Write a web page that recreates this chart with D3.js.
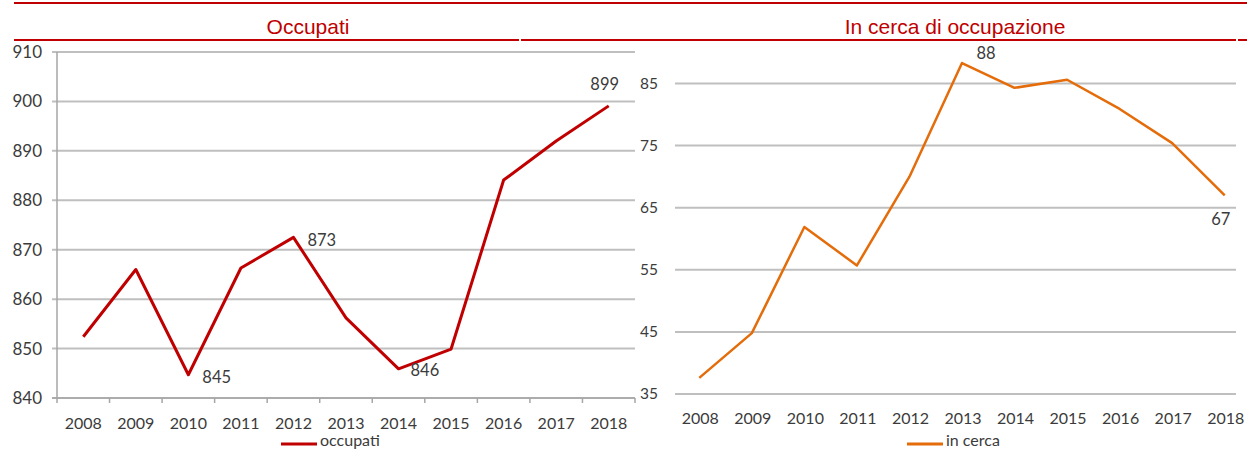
<!DOCTYPE html>
<html>
<head>
<meta charset="utf-8">
<script src="https://cdn.jsdelivr.net/npm/d3@7"></script>
<style>
  html, body { margin: 0; padding: 0; background: #fff; }
  svg { display: block; }
  .num { font-family: Lato, "Open Sans", sans-serif; fill: #3b3b3b; }
</style>
</head>
<body>
<svg id="chart" width="1247" height="450"></svg>
<script>
const years = ["2008","2009","2010","2011","2012","2013","2014","2015","2016","2017","2018"];
const occupati = [852.4, 866.0, 844.7, 866.3, 872.5, 856.2, 845.9, 849.9, 884.1, 892.0, 899.1];
const inCerca = [37.6, 44.8, 61.9, 55.7, 70.0, 88.3, 84.3, 85.6, 80.9, 75.4, 67.0];
const occTicks = [840, 850, 860, 870, 880, 890, 900, 910];
const cercaTicks = [35, 45, 55, 65, 75, 85];
const occLabels = [{i: 2, text: "845"}, {i: 4, text: "873"}, {i: 6, text: "846"}, {i: 10, text: "899"}];
const cercaLabels = [{i: 5, text: "88"}, {i: 10, text: "67"}];
const titles = ["Occupati", "In cerca di occupazione"];
const legendNames = ["occupati", "in cerca"];

const RED = "#C00000", ORANGE = "#E46C0A", GRID = "#BFBFBF", AXIS = "#A6A6A6";
const svg = d3.select("#chart");

// header rules
svg.append("line").attr("x1", 14).attr("x2", 1247).attr("y1", 3).attr("y2", 3)
  .attr("stroke", RED).attr("stroke-width", 2);
[[14, 519], [521, 1236], [1238, 1247]].forEach(([a, b]) =>
  svg.append("line").attr("x1", a).attr("x2", b).attr("y1", 40).attr("y2", 40)
    .attr("stroke", RED).attr("stroke-width", 2));

// titles
svg.append("text").attr("x", 308).attr("y", 34).attr("text-anchor", "middle")
  .attr("font-family", "'Liberation Sans', Arial, sans-serif").attr("font-size", 21)
  .attr("fill", RED).text(titles[0]);
svg.append("text").attr("x", 955).attr("y", 34).attr("text-anchor", "middle")
  .attr("font-family", "'Liberation Sans', Arial, sans-serif").attr("font-size", 21)
  .attr("fill", RED).text(titles[1]);

// ===== Left chart =====
const xL = d3.scaleBand().domain(years).range([57, 635]);
const yL = d3.scaleLinear().domain([840, 910]).range([398, 52]);
const gL = svg.append("g");

gL.selectAll(".gl").data(occTicks).join("line")
  .attr("x1", 52).attr("x2", 635)
  .attr("y1", d => yL(d)).attr("y2", d => yL(d))
  .attr("stroke", GRID).attr("stroke-width", 2);
gL.append("line").attr("x1", 57).attr("x2", 57).attr("y1", yL(910)).attr("y2", yL(840))
  .attr("stroke", AXIS).attr("stroke-width", 1.5);
gL.append("line").attr("x1", 52).attr("x2", 635).attr("y1", yL(840)).attr("y2", yL(840))
  .attr("stroke", AXIS).attr("stroke-width", 1.5);
gL.selectAll(".bt").data(years.concat(["end"])).join("line")
  .attr("x1", (d, i) => i < years.length ? xL(d) : xL.range()[1])
  .attr("x2", (d, i) => i < years.length ? xL(d) : xL.range()[1])
  .attr("y1", yL(840)).attr("y2", yL(840) + 5)
  .attr("stroke", AXIS).attr("stroke-width", 1.5);
gL.selectAll(".yl").data(occTicks).join("text").attr("class", "num")
  .attr("x", 42).attr("y", d => yL(d)).attr("dy", "0.35em")
  .attr("text-anchor", "end").attr("font-size", 17).text(d => d);
gL.selectAll(".xl").data(years).join("text").attr("class", "num")
  .attr("x", d => xL(d) + xL.bandwidth() / 2).attr("y", 423).attr("dy", "0.35em")
  .attr("text-anchor", "middle").attr("font-size", 16).text(d => d);
const lineL = d3.line().x((d, i) => xL(years[i]) + xL.bandwidth() / 2).y(d => yL(d));
gL.append("path").datum(occupati).attr("d", lineL)
  .attr("fill", "none").attr("stroke", RED).attr("stroke-width", 3)
  .attr("stroke-linejoin", "round");
const occOff = {2: [14, 2], 4: [14, 3], 6: [12, 1], 10: [-4, -22]};
gL.selectAll(".dl").data(occLabels).join("text").attr("class", "num")
  .attr("x", d => xL(years[d.i]) + xL.bandwidth() / 2 + occOff[d.i][0])
  .attr("y", d => yL(occupati[d.i]) + occOff[d.i][1]).attr("dy", "0.35em")
  .attr("text-anchor", d => d.i === 10 ? "middle" : "start")
  .attr("font-size", 16.5).text(d => d.text);
gL.append("line").attr("x1", 281).attr("x2", 317).attr("y1", 444).attr("y2", 444)
  .attr("stroke", RED).attr("stroke-width", 3);
gL.append("text").attr("class", "num").attr("x", 320).attr("y", 446)
  .attr("font-size", 16).text(legendNames[0]);

// ===== Right chart =====
const xR = d3.scaleBand().domain(years).range([673, 1251]);
const yR = d3.scaleLinear().domain([35, 85]).range([394, 83.5]);
const gR = svg.append("g");

gR.selectAll(".gr").data(cercaTicks).join("line")
  .attr("x1", 675).attr("x2", 1236)
  .attr("y1", d => yR(d)).attr("y2", d => yR(d))
  .attr("stroke", GRID).attr("stroke-width", 2);
gR.selectAll(".yl").data(cercaTicks).join("text").attr("class", "num")
  .attr("x", 658).attr("y", d => yR(d)).attr("dy", "0.35em")
  .attr("text-anchor", "end").attr("font-size", 15.5).text(d => d);
gR.selectAll(".xl").data(years).join("text").attr("class", "num")
  .attr("x", d => xR(d) + xR.bandwidth() / 2 + 1).attr("y", 418).attr("dy", "0.35em")
  .attr("text-anchor", "middle").attr("font-size", 16).text(d => d);
const lineR = d3.line().x((d, i) => xR(years[i]) + xR.bandwidth() / 2).y(d => yR(d));
gR.append("path").datum(inCerca).attr("d", lineR)
  .attr("fill", "none").attr("stroke", ORANGE).attr("stroke-width", 2.5)
  .attr("stroke-linejoin", "round");
const cercaOff = {5: [24, -10], 10: [-4, 24]};
gR.selectAll(".dl").data(cercaLabels).join("text").attr("class", "num")
  .attr("x", d => xR(years[d.i]) + xR.bandwidth() / 2 + cercaOff[d.i][0])
  .attr("y", d => yR(inCerca[d.i]) + cercaOff[d.i][1]).attr("dy", "0.35em")
  .attr("text-anchor", "middle").attr("font-size", 16.5).text(d => d.text);
gR.append("line").attr("x1", 907).attr("x2", 943).attr("y1", 444).attr("y2", 444)
  .attr("stroke", ORANGE).attr("stroke-width", 3);
gR.append("text").attr("class", "num").attr("x", 946).attr("y", 446)
  .attr("font-size", 16).text(legendNames[1]);
</script>
</body>
</html>
